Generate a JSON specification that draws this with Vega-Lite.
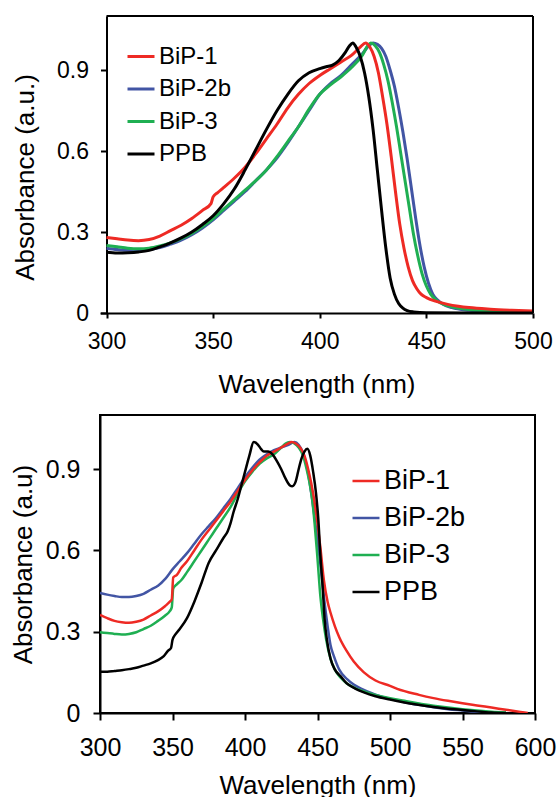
{
  "$schema": "https://vega.github.io/schema/vega-lite/v6.json",
  "background": "white",
  "padding": {"left": 9, "top": 15, "right": 0, "bottom": 0},
  "spacing": 17,
  "config": {
    "font": "Liberation Sans",
    "view": {"stroke": "black", "strokeWidth": 2},
    "axis": {"domainColor": "black", "domainWidth": 2, "tickColor": "black", "tickWidth": 2, "grid": false, "labelColor": "black", "titleColor": "black", "titleFontWeight": "normal", "labelFont": "Liberation Sans", "titleFont": "Liberation Sans"},
    "legend": {"labelFont": "Liberation Sans", "labelColor": "black"}
  },
  "datasets": {
    "top": [
      {"s":"BiP-2b","x":300,"y":0.24},{"s":"BiP-2b","x":305,"y":0.235},{"s":"BiP-2b","x":310,"y":0.232},{"s":"BiP-2b","x":315,"y":0.232},{"s":"BiP-2b","x":320,"y":0.235},{"s":"BiP-2b","x":325,"y":0.242},{"s":"BiP-2b","x":330,"y":0.255},{"s":"BiP-2b","x":335,"y":0.27},{"s":"BiP-2b","x":340,"y":0.29},{"s":"BiP-2b","x":345,"y":0.315},{"s":"BiP-2b","x":350,"y":0.345},{"s":"BiP-2b","x":355,"y":0.38},{"s":"BiP-2b","x":360,"y":0.415},{"s":"BiP-2b","x":365,"y":0.45},{"s":"BiP-2b","x":370,"y":0.49},{"s":"BiP-2b","x":375,"y":0.53},{"s":"BiP-2b","x":380,"y":0.575},{"s":"BiP-2b","x":385,"y":0.63},{"s":"BiP-2b","x":390,"y":0.69},{"s":"BiP-2b","x":395,"y":0.75},{"s":"BiP-2b","x":400,"y":0.81},{"s":"BiP-2b","x":405,"y":0.85},{"s":"BiP-2b","x":410,"y":0.88},{"s":"BiP-2b","x":415,"y":0.92},{"s":"BiP-2b","x":420,"y":0.96},{"s":"BiP-2b","x":423,"y":0.99},{"s":"BiP-2b","x":425,"y":1.0},{"s":"BiP-2b","x":427,"y":0.995},{"s":"BiP-2b","x":429,"y":0.98},{"s":"BiP-2b","x":431,"y":0.95},{"s":"BiP-2b","x":433,"y":0.9},{"s":"BiP-2b","x":435,"y":0.84},{"s":"BiP-2b","x":437,"y":0.76},{"s":"BiP-2b","x":439,"y":0.67},{"s":"BiP-2b","x":441,"y":0.57},{"s":"BiP-2b","x":443,"y":0.46},{"s":"BiP-2b","x":445,"y":0.35},{"s":"BiP-2b","x":447,"y":0.25},{"s":"BiP-2b","x":449,"y":0.17},{"s":"BiP-2b","x":451,"y":0.11},{"s":"BiP-2b","x":453,"y":0.07},{"s":"BiP-2b","x":455,"y":0.05},{"s":"BiP-2b","x":458,"y":0.032},{"s":"BiP-2b","x":462,"y":0.02},{"s":"BiP-2b","x":470,"y":0.01},{"s":"BiP-2b","x":480,"y":0.005},{"s":"BiP-2b","x":500,"y":0.002},
      {"s":"BiP-3","x":300,"y":0.25},{"s":"BiP-3","x":305,"y":0.245},{"s":"BiP-3","x":310,"y":0.24},{"s":"BiP-3","x":315,"y":0.238},{"s":"BiP-3","x":320,"y":0.24},{"s":"BiP-3","x":325,"y":0.248},{"s":"BiP-3","x":330,"y":0.26},{"s":"BiP-3","x":335,"y":0.275},{"s":"BiP-3","x":340,"y":0.295},{"s":"BiP-3","x":345,"y":0.32},{"s":"BiP-3","x":350,"y":0.35},{"s":"BiP-3","x":355,"y":0.385},{"s":"BiP-3","x":360,"y":0.42},{"s":"BiP-3","x":365,"y":0.455},{"s":"BiP-3","x":370,"y":0.49},{"s":"BiP-3","x":375,"y":0.53},{"s":"BiP-3","x":380,"y":0.58},{"s":"BiP-3","x":385,"y":0.635},{"s":"BiP-3","x":390,"y":0.69},{"s":"BiP-3","x":395,"y":0.755},{"s":"BiP-3","x":400,"y":0.81},{"s":"BiP-3","x":405,"y":0.845},{"s":"BiP-3","x":410,"y":0.875},{"s":"BiP-3","x":415,"y":0.91},{"s":"BiP-3","x":420,"y":0.955},{"s":"BiP-3","x":422.5,"y":0.99},{"s":"BiP-3","x":424,"y":1.0},{"s":"BiP-3","x":426,"y":0.99},{"s":"BiP-3","x":428,"y":0.965},{"s":"BiP-3","x":430,"y":0.92},{"s":"BiP-3","x":432,"y":0.86},{"s":"BiP-3","x":434,"y":0.78},{"s":"BiP-3","x":436,"y":0.69},{"s":"BiP-3","x":438,"y":0.59},{"s":"BiP-3","x":440,"y":0.49},{"s":"BiP-3","x":442,"y":0.39},{"s":"BiP-3","x":444,"y":0.29},{"s":"BiP-3","x":446,"y":0.21},{"s":"BiP-3","x":448,"y":0.145},{"s":"BiP-3","x":450,"y":0.1},{"s":"BiP-3","x":452,"y":0.07},{"s":"BiP-3","x":455,"y":0.045},{"s":"BiP-3","x":460,"y":0.027},{"s":"BiP-3","x":470,"y":0.013},{"s":"BiP-3","x":480,"y":0.007},{"s":"BiP-3","x":500,"y":0.003},
      {"s":"BiP-1","x":300,"y":0.28},{"s":"BiP-1","x":305,"y":0.275},{"s":"BiP-1","x":310,"y":0.27},{"s":"BiP-1","x":315,"y":0.268},{"s":"BiP-1","x":320,"y":0.272},{"s":"BiP-1","x":325,"y":0.285},{"s":"BiP-1","x":330,"y":0.305},{"s":"BiP-1","x":335,"y":0.325},{"s":"BiP-1","x":340,"y":0.35},{"s":"BiP-1","x":345,"y":0.38},{"s":"BiP-1","x":349,"y":0.405},{"s":"BiP-1","x":350,"y":0.43},{"s":"BiP-1","x":352,"y":0.445},{"s":"BiP-1","x":355,"y":0.465},{"s":"BiP-1","x":360,"y":0.5},{"s":"BiP-1","x":365,"y":0.54},{"s":"BiP-1","x":370,"y":0.59},{"s":"BiP-1","x":375,"y":0.645},{"s":"BiP-1","x":380,"y":0.7},{"s":"BiP-1","x":385,"y":0.76},{"s":"BiP-1","x":390,"y":0.81},{"s":"BiP-1","x":395,"y":0.85},{"s":"BiP-1","x":400,"y":0.88},{"s":"BiP-1","x":405,"y":0.905},{"s":"BiP-1","x":410,"y":0.93},{"s":"BiP-1","x":415,"y":0.955},{"s":"BiP-1","x":419,"y":0.985},{"s":"BiP-1","x":421.5,"y":1.0},{"s":"BiP-1","x":423.5,"y":0.985},{"s":"BiP-1","x":425.5,"y":0.95},{"s":"BiP-1","x":427.5,"y":0.89},{"s":"BiP-1","x":429.5,"y":0.8},{"s":"BiP-1","x":431.5,"y":0.7},{"s":"BiP-1","x":433.5,"y":0.58},{"s":"BiP-1","x":435.5,"y":0.45},{"s":"BiP-1","x":437.5,"y":0.33},{"s":"BiP-1","x":439.5,"y":0.24},{"s":"BiP-1","x":441.5,"y":0.17},{"s":"BiP-1","x":443.5,"y":0.12},{"s":"BiP-1","x":445.5,"y":0.09},{"s":"BiP-1","x":447.5,"y":0.07},{"s":"BiP-1","x":450,"y":0.057},{"s":"BiP-1","x":455,"y":0.042},{"s":"BiP-1","x":460,"y":0.032},{"s":"BiP-1","x":465,"y":0.025},{"s":"BiP-1","x":470,"y":0.02},{"s":"BiP-1","x":480,"y":0.014},{"s":"BiP-1","x":490,"y":0.01},{"s":"BiP-1","x":500,"y":0.007},
      {"s":"PPB","x":300,"y":0.225},{"s":"PPB","x":305,"y":0.222},{"s":"PPB","x":310,"y":0.223},{"s":"PPB","x":315,"y":0.226},{"s":"PPB","x":320,"y":0.232},{"s":"PPB","x":325,"y":0.245},{"s":"PPB","x":330,"y":0.26},{"s":"PPB","x":335,"y":0.278},{"s":"PPB","x":340,"y":0.3},{"s":"PPB","x":345,"y":0.328},{"s":"PPB","x":350,"y":0.36},{"s":"PPB","x":355,"y":0.405},{"s":"PPB","x":360,"y":0.46},{"s":"PPB","x":365,"y":0.53},{"s":"PPB","x":370,"y":0.605},{"s":"PPB","x":375,"y":0.68},{"s":"PPB","x":380,"y":0.75},{"s":"PPB","x":385,"y":0.81},{"s":"PPB","x":390,"y":0.86},{"s":"PPB","x":395,"y":0.89},{"s":"PPB","x":400,"y":0.905},{"s":"PPB","x":403,"y":0.912},{"s":"PPB","x":406,"y":0.918},{"s":"PPB","x":409,"y":0.935},{"s":"PPB","x":412,"y":0.965},{"s":"PPB","x":414,"y":0.99},{"s":"PPB","x":415.5,"y":1.0},{"s":"PPB","x":417,"y":0.985},{"s":"PPB","x":419,"y":0.95},{"s":"PPB","x":421,"y":0.89},{"s":"PPB","x":423,"y":0.8},{"s":"PPB","x":425,"y":0.68},{"s":"PPB","x":427,"y":0.53},{"s":"PPB","x":429,"y":0.38},{"s":"PPB","x":431,"y":0.24},{"s":"PPB","x":433,"y":0.13},{"s":"PPB","x":435,"y":0.07},{"s":"PPB","x":437,"y":0.035},{"s":"PPB","x":439,"y":0.018},{"s":"PPB","x":441,"y":0.009},{"s":"PPB","x":444,"y":0.004},{"s":"PPB","x":450,"y":0.001},{"s":"PPB","x":500,"y":0.0}
    ],
    "bottom": [
      {"s":"BiP-2b","x":300,"y":0.443},{"s":"BiP-2b","x":305,"y":0.437},{"s":"BiP-2b","x":310,"y":0.432},{"s":"BiP-2b","x":315,"y":0.428},{"s":"BiP-2b","x":320,"y":0.428},{"s":"BiP-2b","x":325,"y":0.432},{"s":"BiP-2b","x":330,"y":0.44},{"s":"BiP-2b","x":335,"y":0.455},{"s":"BiP-2b","x":340,"y":0.47},{"s":"BiP-2b","x":345,"y":0.495},{"s":"BiP-2b","x":350,"y":0.53},{"s":"BiP-2b","x":355,"y":0.56},{"s":"BiP-2b","x":360,"y":0.59},{"s":"BiP-2b","x":365,"y":0.625},{"s":"BiP-2b","x":370,"y":0.66},{"s":"BiP-2b","x":375,"y":0.69},{"s":"BiP-2b","x":380,"y":0.72},{"s":"BiP-2b","x":385,"y":0.755},{"s":"BiP-2b","x":390,"y":0.79},{"s":"BiP-2b","x":395,"y":0.83},{"s":"BiP-2b","x":400,"y":0.87},{"s":"BiP-2b","x":405,"y":0.905},{"s":"BiP-2b","x":410,"y":0.935},{"s":"BiP-2b","x":415,"y":0.955},{"s":"BiP-2b","x":420,"y":0.97},{"s":"BiP-2b","x":425,"y":0.98},{"s":"BiP-2b","x":430,"y":0.99},{"s":"BiP-2b","x":434,"y":1.0},{"s":"BiP-2b","x":437,"y":0.99},{"s":"BiP-2b","x":440,"y":0.96},{"s":"BiP-2b","x":443,"y":0.9},{"s":"BiP-2b","x":446,"y":0.8},{"s":"BiP-2b","x":449,"y":0.68},{"s":"BiP-2b","x":452,"y":0.55},{"s":"BiP-2b","x":454.4,"y":0.43},{"s":"BiP-2b","x":457,"y":0.32},{"s":"BiP-2b","x":459,"y":0.25},{"s":"BiP-2b","x":461.3,"y":0.21},{"s":"BiP-2b","x":465,"y":0.16},{"s":"BiP-2b","x":470.4,"y":0.125},{"s":"BiP-2b","x":475,"y":0.105},{"s":"BiP-2b","x":480,"y":0.09},{"s":"BiP-2b","x":490,"y":0.068},{"s":"BiP-2b","x":500,"y":0.052},{"s":"BiP-2b","x":510,"y":0.04},{"s":"BiP-2b","x":520,"y":0.03},{"s":"BiP-2b","x":530,"y":0.021},{"s":"BiP-2b","x":540,"y":0.014},{"s":"BiP-2b","x":550,"y":0.009},{"s":"BiP-2b","x":560,"y":0.004},{"s":"BiP-2b","x":570,"y":0.001},
      {"s":"BiP-3","x":300,"y":0.298},{"s":"BiP-3","x":305,"y":0.295},{"s":"BiP-3","x":310,"y":0.292},{"s":"BiP-3","x":315,"y":0.29},{"s":"BiP-3","x":320,"y":0.292},{"s":"BiP-3","x":325,"y":0.298},{"s":"BiP-3","x":330,"y":0.31},{"s":"BiP-3","x":335,"y":0.322},{"s":"BiP-3","x":340,"y":0.34},{"s":"BiP-3","x":345,"y":0.36},{"s":"BiP-3","x":348,"y":0.375},{"s":"BiP-3","x":349.5,"y":0.39},{"s":"BiP-3","x":350.5,"y":0.46},{"s":"BiP-3","x":353,"y":0.475},{"s":"BiP-3","x":356,"y":0.49},{"s":"BiP-3","x":360,"y":0.52},{"s":"BiP-3","x":365,"y":0.56},{"s":"BiP-3","x":370,"y":0.6},{"s":"BiP-3","x":375,"y":0.64},{"s":"BiP-3","x":380,"y":0.68},{"s":"BiP-3","x":385,"y":0.72},{"s":"BiP-3","x":390,"y":0.76},{"s":"BiP-3","x":395,"y":0.81},{"s":"BiP-3","x":400,"y":0.855},{"s":"BiP-3","x":405,"y":0.89},{"s":"BiP-3","x":410,"y":0.92},{"s":"BiP-3","x":415,"y":0.94},{"s":"BiP-3","x":420,"y":0.955},{"s":"BiP-3","x":425,"y":0.98},{"s":"BiP-3","x":428,"y":0.995},{"s":"BiP-3","x":431,"y":1.0},{"s":"BiP-3","x":434,"y":0.995},{"s":"BiP-3","x":437,"y":0.98},{"s":"BiP-3","x":440,"y":0.95},{"s":"BiP-3","x":442.5,"y":0.9},{"s":"BiP-3","x":444.5,"y":0.85},{"s":"BiP-3","x":446.3,"y":0.79},{"s":"BiP-3","x":448,"y":0.7},{"s":"BiP-3","x":450,"y":0.57},{"s":"BiP-3","x":452,"y":0.43},{"s":"BiP-3","x":454,"y":0.34},{"s":"BiP-3","x":456,"y":0.27},{"s":"BiP-3","x":459,"y":0.2},{"s":"BiP-3","x":462,"y":0.16},{"s":"BiP-3","x":466,"y":0.13},{"s":"BiP-3","x":470,"y":0.11},{"s":"BiP-3","x":475,"y":0.095},{"s":"BiP-3","x":480,"y":0.083},{"s":"BiP-3","x":490,"y":0.067},{"s":"BiP-3","x":500,"y":0.055},{"s":"BiP-3","x":510,"y":0.045},{"s":"BiP-3","x":520,"y":0.035},{"s":"BiP-3","x":530,"y":0.027},{"s":"BiP-3","x":540,"y":0.02},{"s":"BiP-3","x":550,"y":0.014},{"s":"BiP-3","x":560,"y":0.009},{"s":"BiP-3","x":570,"y":0.005},{"s":"BiP-3","x":580,"y":0.002},
      {"s":"BiP-1","x":300,"y":0.362},{"s":"BiP-1","x":305,"y":0.35},{"s":"BiP-1","x":310,"y":0.34},{"s":"BiP-1","x":315,"y":0.335},{"s":"BiP-1","x":320,"y":0.333},{"s":"BiP-1","x":325,"y":0.337},{"s":"BiP-1","x":330,"y":0.345},{"s":"BiP-1","x":335,"y":0.36},{"s":"BiP-1","x":340,"y":0.375},{"s":"BiP-1","x":345,"y":0.395},{"s":"BiP-1","x":348,"y":0.41},{"s":"BiP-1","x":349.5,"y":0.42},{"s":"BiP-1","x":350.5,"y":0.5},{"s":"BiP-1","x":353,"y":0.51},{"s":"BiP-1","x":356,"y":0.535},{"s":"BiP-1","x":360,"y":0.56},{"s":"BiP-1","x":365,"y":0.6},{"s":"BiP-1","x":370,"y":0.64},{"s":"BiP-1","x":375,"y":0.675},{"s":"BiP-1","x":380,"y":0.71},{"s":"BiP-1","x":385,"y":0.745},{"s":"BiP-1","x":390,"y":0.78},{"s":"BiP-1","x":395,"y":0.82},{"s":"BiP-1","x":400,"y":0.86},{"s":"BiP-1","x":405,"y":0.895},{"s":"BiP-1","x":410,"y":0.925},{"s":"BiP-1","x":415,"y":0.95},{"s":"BiP-1","x":420,"y":0.965},{"s":"BiP-1","x":425,"y":0.98},{"s":"BiP-1","x":430,"y":0.995},{"s":"BiP-1","x":432,"y":1.0},{"s":"BiP-1","x":435,"y":0.995},{"s":"BiP-1","x":438,"y":0.98},{"s":"BiP-1","x":441,"y":0.95},{"s":"BiP-1","x":444,"y":0.89},{"s":"BiP-1","x":447,"y":0.81},{"s":"BiP-1","x":450,"y":0.7},{"s":"BiP-1","x":452,"y":0.61},{"s":"BiP-1","x":454.4,"y":0.49},{"s":"BiP-1","x":457,"y":0.41},{"s":"BiP-1","x":459,"y":0.37},{"s":"BiP-1","x":462,"y":0.32},{"s":"BiP-1","x":465,"y":0.28},{"s":"BiP-1","x":470,"y":0.23},{"s":"BiP-1","x":475,"y":0.19},{"s":"BiP-1","x":482,"y":0.15},{"s":"BiP-1","x":490,"y":0.12},{"s":"BiP-1","x":500,"y":0.1},{"s":"BiP-1","x":505,"y":0.089},{"s":"BiP-1","x":520,"y":0.067},{"s":"BiP-1","x":530,"y":0.055},{"s":"BiP-1","x":540,"y":0.045},{"s":"BiP-1","x":550,"y":0.036},{"s":"BiP-1","x":560,"y":0.028},{"s":"BiP-1","x":570,"y":0.02},{"s":"BiP-1","x":580,"y":0.012},{"s":"BiP-1","x":590,"y":0.004},{"s":"BiP-1","x":595,"y":0.0},
      {"s":"PPB","x":300,"y":0.152},{"s":"PPB","x":305,"y":0.152},{"s":"PPB","x":310,"y":0.155},{"s":"PPB","x":315,"y":0.158},{"s":"PPB","x":320,"y":0.162},{"s":"PPB","x":325,"y":0.167},{"s":"PPB","x":330,"y":0.175},{"s":"PPB","x":335,"y":0.183},{"s":"PPB","x":340,"y":0.195},{"s":"PPB","x":344,"y":0.21},{"s":"PPB","x":347,"y":0.23},{"s":"PPB","x":349,"y":0.24},{"s":"PPB","x":350,"y":0.27},{"s":"PPB","x":352,"y":0.29},{"s":"PPB","x":355,"y":0.31},{"s":"PPB","x":360,"y":0.35},{"s":"PPB","x":365,"y":0.41},{"s":"PPB","x":370,"y":0.48},{"s":"PPB","x":375,"y":0.555},{"s":"PPB","x":380,"y":0.6},{"s":"PPB","x":385,"y":0.645},{"s":"PPB","x":388,"y":0.67},{"s":"PPB","x":390,"y":0.7},{"s":"PPB","x":392,"y":0.74},{"s":"PPB","x":395,"y":0.79},{"s":"PPB","x":398,"y":0.85},{"s":"PPB","x":400,"y":0.89},{"s":"PPB","x":403,"y":0.95},{"s":"PPB","x":406,"y":1.0},{"s":"PPB","x":409,"y":0.99},{"s":"PPB","x":411,"y":0.975},{"s":"PPB","x":413,"y":0.965},{"s":"PPB","x":416,"y":0.965},{"s":"PPB","x":419,"y":0.955},{"s":"PPB","x":422,"y":0.93},{"s":"PPB","x":425,"y":0.9},{"s":"PPB","x":428,"y":0.865},{"s":"PPB","x":431,"y":0.84},{"s":"PPB","x":432.6,"y":0.837},{"s":"PPB","x":435,"y":0.855},{"s":"PPB","x":437,"y":0.9},{"s":"PPB","x":439,"y":0.94},{"s":"PPB","x":441,"y":0.965},{"s":"PPB","x":443,"y":0.975},{"s":"PPB","x":445,"y":0.95},{"s":"PPB","x":447,"y":0.89},{"s":"PPB","x":449,"y":0.81},{"s":"PPB","x":450.5,"y":0.72},{"s":"PPB","x":452,"y":0.58},{"s":"PPB","x":453.5,"y":0.47},{"s":"PPB","x":455,"y":0.34},{"s":"PPB","x":456.5,"y":0.27},{"s":"PPB","x":459,"y":0.2},{"s":"PPB","x":462,"y":0.16},{"s":"PPB","x":466,"y":0.135},{"s":"PPB","x":470,"y":0.11},{"s":"PPB","x":476,"y":0.09},{"s":"PPB","x":482,"y":0.076},{"s":"PPB","x":490,"y":0.062},{"s":"PPB","x":500,"y":0.05},{"s":"PPB","x":516,"y":0.033},{"s":"PPB","x":530,"y":0.022},{"s":"PPB","x":540,"y":0.016},{"s":"PPB","x":550,"y":0.011},{"s":"PPB","x":560,"y":0.006},{"s":"PPB","x":570,"y":0.002},{"s":"PPB","x":580,"y":0.0}
    ]
  },
  "vconcat": [
    {
      "width": 433,
      "height": 297,
      "view": {"stroke": null},
      "layer": [
        {
          "data": {"name": "top"},
          "mark": {"type": "line", "strokeWidth": 3, "interpolate": "monotone", "clip": true},
          "encoding": {
            "x": {"field": "x", "type": "quantitative", "scale": {"domain": [296.95, 500], "nice": false, "zero": false},
              "axis": {"values": [300, 350, 400, 450, 500], "title": "Wavelength (nm)", "labelFontSize": 23, "titleFontSize": 26, "tickSize": 5, "labelPadding": 12, "titlePadding": 18, "labelFlush": false}},
            "y": {"field": "y", "type": "quantitative", "scale": {"domain": [0, 1.1], "nice": false},
              "axis": {"values": [0, 0.3, 0.6, 0.9], "offset": -6.5, "labelExpr": "datum.value == 0 ? '0' : format(datum.value, '.1f')", "title": "Absorbance (a.u.)", "labelFontSize": 23, "titleFontSize": 26, "tickSize": 6, "labelPadding": 12, "titlePadding": 18.5, "titleY": 161}},
            "color": {"field": "s", "type": "nominal", "scale": {"domain": ["BiP-1", "BiP-2b", "BiP-3", "PPB"], "range": ["#EE2A24", "#4255A4", "#1FAF52", "#000000"]},
              "legend": {"orient": "none", "legendX": 26, "legendY": 25.5, "title": null, "symbolType": "stroke", "symbolSize": 729, "symbolStrokeWidth": 3, "labelFontSize": 24, "rowPadding": 5.5, "labelOffset": 3}}
          }
        },
        {
          "data": {"values": [{}]},
          "mark": {"type": "rule", "color": "black", "strokeWidth": 2},
          "encoding": {"x": {"datum": 300, "type": "quantitative"}, "x2": {"datum": 500}, "y": {"datum": 1.1, "type": "quantitative"}}
        },
        {
          "data": {"values": [{}]},
          "mark": {"type": "rule", "color": "black", "strokeWidth": 2},
          "encoding": {"x": {"datum": 500, "type": "quantitative"}, "y": {"datum": 0, "type": "quantitative"}, "y2": {"datum": 1.1}}
        }
      ]
    },
    {
      "width": 435,
      "height": 298,
      "data": {"name": "bottom"},
      "mark": {"type": "line", "strokeWidth": 2.5, "interpolate": "monotone", "clip": true},
      "encoding": {
        "x": {"field": "x", "type": "quantitative", "scale": {"domain": [300, 600], "nice": false, "zero": false},
          "axis": {"values": [300, 350, 400, 450, 500, 550, 600], "title": "Wavelength (nm)", "labelFontSize": 25, "titleFontSize": 26, "tickSize": 7, "labelPadding": 15, "titlePadding": 12, "labelFlush": false}},
        "y": {"field": "y", "type": "quantitative", "scale": {"domain": [0, 1.1], "nice": false},
          "axis": {"values": [0, 0.3, 0.6, 0.9], "labelExpr": "datum.value == 0 ? '0' : format(datum.value, '.1f')", "title": "Absorbance (a.u)", "labelFontSize": 25, "titleFontSize": 26, "tickSize": 7, "labelPadding": 13, "titlePadding": 9}},
        "color": {"field": "s", "type": "nominal", "scale": {"domain": ["BiP-1", "BiP-2b", "BiP-3", "PPB"], "range": ["#EE2A24", "#4255A4", "#1FAF52", "#000000"]},
          "legend": {"orient": "none", "legendX": 251, "legendY": 51, "title": null, "symbolType": "stroke", "symbolSize": 729, "symbolStrokeWidth": 2.5, "labelFontSize": 27, "rowPadding": 9, "labelOffset": 3}}
      }
    }
  ],
  "resolve": {"scale": {"color": "independent"}, "legend": {"color": "independent"}}
}
